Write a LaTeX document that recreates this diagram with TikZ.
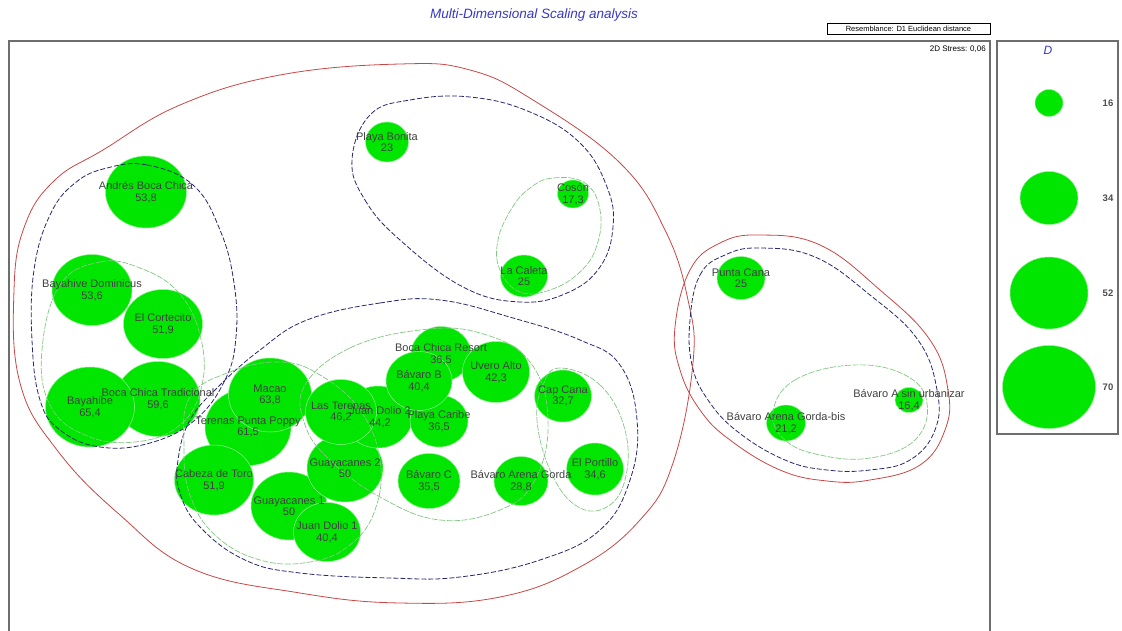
\documentclass[tikz,border=0pt]{standalone}
\usepackage{fontspec}
\setmainfont{Liberation Sans}
\definecolor{bubgreen}{RGB}{0,230,0}
\definecolor{bubedge}{RGB}{150,240,150}
\definecolor{clred}{RGB}{200,70,70}
\definecolor{clblue}{RGB}{40,40,110}
\definecolor{clgreen}{RGB}{130,200,130}
\definecolor{titleblue}{RGB}{55,55,200}
\definecolor{framegray}{RGB}{110,110,110}
\tikzset{
  bub/.style={fill=bubgreen, draw=bubedge, line width=0.5pt},
  lab/.style={font=\fontsize{11}{11.5}\selectfont, text=black!75, align=center, inner sep=0pt},
  redline/.style={draw=clred, line width=0.8pt},
  blueline/.style={draw=clblue, line width=0.8pt, dash pattern=on 5pt off 2pt},
  greenline/.style={draw=clgreen, line width=0.7pt, dash pattern=on 6pt off 1.5pt},
  frameline/.style={draw=framegray, line width=1.3pt}
}

\begin{document}
\begin{tikzpicture}[x=1pt,y=-1pt]
\useasboundingbox (0,0) rectangle (1122,631);

% frames
\draw[frameline] (9,650) -- (9,41) -- (990,41) -- (990,650);
\draw[frameline] (997,41) rectangle (1118,434);
\draw[line width=0.8pt] (827,23) rectangle (990,34);
\node[font=\fontsize{7.5}{8}\selectfont, inner sep=0pt] (resem) at (908.5,28.5) {Resemblance: D1 Euclidean distance};
\node[font=\fontsize{8}{9}\selectfont, anchor=east, inner sep=0pt] (stress) at (986,49) {2D Stress: 0,06};
\node[font=\fontsize{13.5}{15}\selectfont\itshape, text=titleblue, inner sep=0pt] (title) at (534,15) {Multi-Dimensional Scaling analysis};

% sites
\foreach \x/\y/\w/\h in {146/192/81/72, 92/290/80/71, 163/324/79/69, 158/399/84/75,
    90/407/89/80, 248/427/86/77, 270/395/83/74, 214/480/79/70, 289/506/76/68,
    327/532/67/59, 345/468/76/68, 378/417/69/62, 341/412/71/65, 441/354/60/55,
    439/421/58/52, 419/381/66/59, 496/372/67/61, 563/396/57/52, 429/481/62/55,
    521/481/54/49, 595/469/57/52, 387/142/43/40, 573/194/31/28, 524/276/47/42,
    741/278/48/43, 786/423/39/36, 909/400/28/25}
  \draw[bub] (\x,\y) ellipse ({\w/2*1pt} and {\h/2*1pt});

% cluster outlines
\draw[redline] plot[smooth cycle, tension=0.7] coordinates {(14,290) (25,225) (55,180) (103,150)
    (180,105) (280,75) (400,64) (470,70) (533,100) (620,163) (665,230) (688,300) (693,363)
    (673,463) (640,520) (580,567) (500,597) (400,603) (300,593) (193,569) (120,515) (57,450)
    (20,383)};
\draw[redline] plot[smooth cycle, tension=0.7] coordinates {(675,327) (690,270) (720,243)
    (760,235) (820,245) (880,290) (930,340) (948,390) (945,430) (920,465) (870,480) (827,481)
    (780,470) (730,440) (700,410) (680,370)};
\draw[blueline] plot[smooth cycle, tension=0.7] coordinates {(107,168) (147,165) (193,185)
    (220,230) (234,283) (236,337) (225,380) (195,420) (150,443) (100,447) (60,430) (40,400)
    (32,340) (34,270) (50,215) (75,183)};
\draw[blueline] plot[smooth cycle, tension=0.7] coordinates {(352,160) (365,200) (400,240)
    (463,287) (520,302) (567,293) (600,267) (613,227) (607,187) (580,143) (530,112) (470,97)
    (410,100) (370,115)};
\draw[blueline] plot[smooth cycle, tension=0.7] coordinates {(307,320) (380,303) (440,300)
    (513,318) (580,340) (620,365) (637,420) (630,480) (600,530) (540,560) (460,577) (390,578)
    (300,573) (245,560) (200,527) (180,493) (178,460) (190,420) (218,387) (260,350)};
\draw[blueline] plot[smooth cycle, tension=0.7] coordinates {(690,320) (700,275) (725,255)
    (760,248) (815,257) (870,295) (918,340) (937,390) (935,430) (910,460) (870,470) (827,470)
    (785,460) (738,432) (708,400) (692,365)};
\draw[greenline] plot[smooth cycle, tension=0.7] coordinates {(60,285) (100,262) (140,268)
    (178,292) (200,335) (202,385) (180,425) (135,442) (85,435) (50,405) (42,350)};
\draw[greenline] plot[smooth cycle, tension=0.7] coordinates {(553,178) (585,183) (600,210)
    (597,245) (580,272) (550,290) (520,292) (500,270) (498,240) (512,208) (530,188)};
\draw[greenline] plot[smooth cycle, tension=0.7] coordinates {(190,397) (230,372) (280,362)
    (320,375) (360,410) (380,460) (375,510) (350,545) (310,562) (260,560) (215,535) (190,495)
    (184,447)};
\draw[greenline] plot[smooth cycle, tension=0.7] coordinates {(305,385) (350,348) (420,330)
    (480,333) (530,362) (548,420) (535,480) (500,510) (440,520) (380,497) (330,460) (305,425)};
\draw[greenline] plot[smooth cycle, tension=0.7] coordinates {(560,368) (600,385) (625,430)
    (625,480) (605,508) (575,505) (550,470) (537,420) (543,385)};
\draw[greenline] plot[smooth cycle, tension=0.7] coordinates {(773,412) (795,380) (853,365)
    (905,375) (927,403) (915,440) (870,458) (820,455) (785,440)};

% site labels
\foreach \x/\y/\nm/\val [count=\i] in {146/192/Andrés Boca Chica/{53,8},
    92/290/Bayahive Dominicus/{53,6}, 163/324/El Cortecito/{51,9},
    158/399/Boca Chica Tradicional/{59,6}, 90/407/Bayahibe/{65,4},
    248/427/Terenas Punta Poppy/{61,5}, 270/395/Macao/{63,8}, 214/480/Cabeza de Toro/{51,9},
    289/506/Guayacanes 1/{50}, 327/532/Juan Dolio 1/{40,4}, 345/468/Guayacanes 2/{50},
    380/417/Juan Dolio 2/{44,2}, 341/412/Las Terenas/{46,2}, 441/354/Boca Chica Resort/{36,5},
    439/421/Playa Caribe/{36,5}, 419/381/Bávaro B/{40,4}, 496/372/Uvero Alto/{42,3},
    563/396/Cap Cana/{32,7}, 429/481/Bávaro C/{35,5}, 521/481/Bávaro Arena Gorda/{28,8},
    595/469/El Portillo/{34,6}, 387/142/Playa Bonita/{23}, 573/194/Cosón/{17,3},
    524/276/La Caleta/{25}, 741/278/Punta Cana/{25}, 786/423/Bávaro Arena Gorda-bis/{21,2},
    909/400/Bávaro A sin urbanizar/{16,4}}
  \node[lab] (site\i) at (\x,\y) {\nm\\\val};

% key
\node[font=\fontsize{12}{14}\selectfont\itshape, text=titleblue, inner sep=0pt] (keyhead) at (1048,50) {D};
\foreach \v/\y/\w/\h in {16/103/28/27, 34/198/58/53, 52/293/78/72, 70/387/93/83} {
  \draw[bub] (1049,\y) ellipse ({\w/2*1pt} and {\h/2*1pt});
  \node[font=\fontsize{9.5}{10}\selectfont\bfseries, text=black!70, inner sep=0pt] (key\v) at (1108,\y) {\v};
}
\end{tikzpicture}
\end{document}
